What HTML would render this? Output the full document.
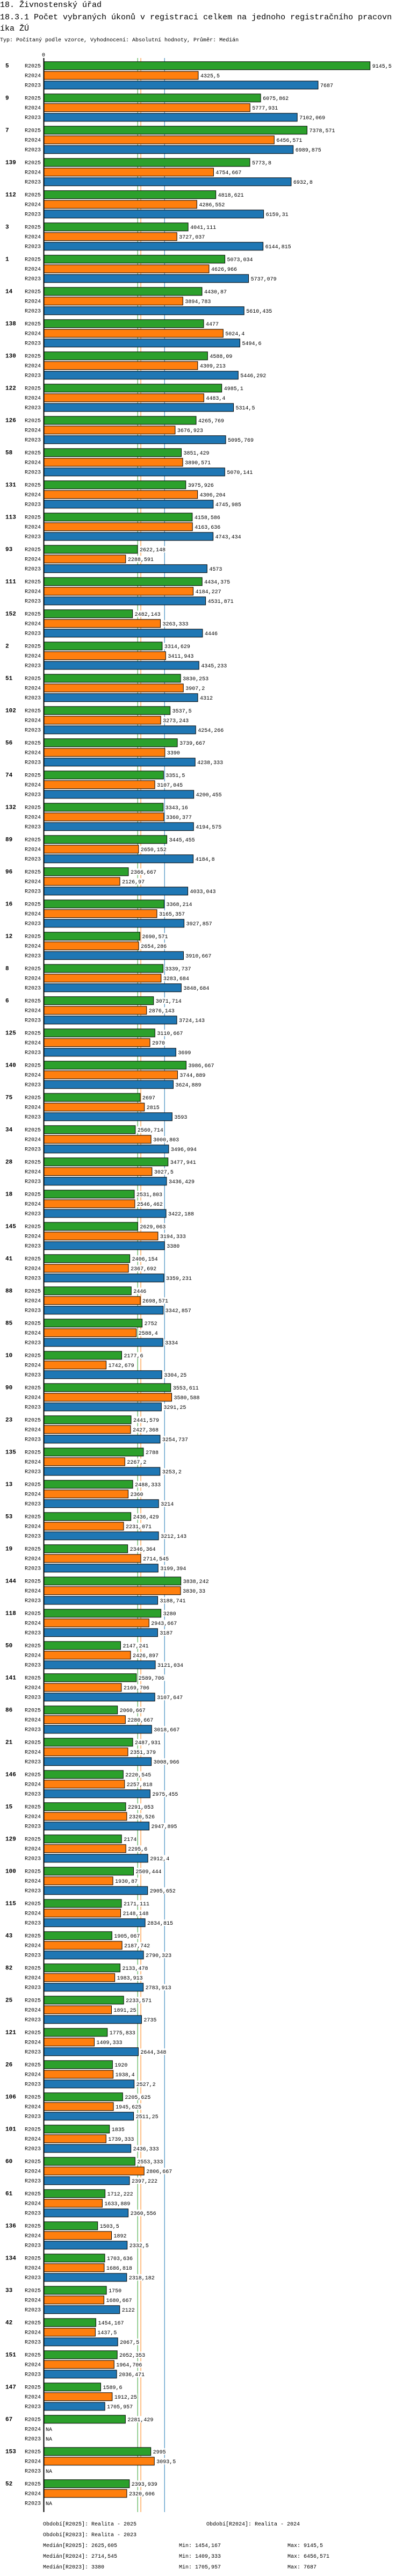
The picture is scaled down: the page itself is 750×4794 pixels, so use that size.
<!DOCTYPE html>
<html>
<head>
<meta charset="utf-8">
<style>
  html,body{margin:0;padding:0;background:#fff;}
  body{width:750px;height:4794px;overflow:hidden;}
  svg{display:block;}
  text{font-family:"Liberation Mono","DejaVu Sans Mono",monospace;fill:#000;}
</style>
</head>
<body>
<svg id="chart" width="750" height="4794" viewBox="0 0 750 4794" xmlns="http://www.w3.org/2000/svg">
  <text x="0" y="13" font-size="15">18. Živnostenský úřad</text>
  <text x="0" y="36" font-size="15">18.3.1 Počet vybraných úkonů v registraci celkem na jednoho registračního pracovn</text>
  <text x="0" y="57" font-size="15">íka ŽÚ</text>
  <text x="0" y="77" font-size="10">Typ: Počítaný podle vzorce, Vyhodnocení: Absolutní hodnoty, Průměr: Medián</text>
  <g id="plot"></g>
  <g id="footer"></g>
</svg>
<script>
const categories = ["5","9","7","139","112","3","1","14","138","130","122","126","58","131","113","93","111","152","2","51","102","56","74","132","89","96","16","12","8","6","125","140","75","34","28","18","145","41","88","85","10","90","23","135","13","53","19","144","118","50","141","86","21","146","15","129","100","115","43","82","25","121","26","106","101","60","61","136","134","33","42","151","147","67","153","52"];
const seriesNames = ["R2025","R2024","R2023"];
const values2025 = [9145.5,6075.862,7378.571,5773.8,4818.621,4041.111,5073.034,4430.87,4477,4588.09,4985.1,4265.769,3851.429,3975.926,4158.586,2622.148,4434.375,2482.143,3314.629,3830.253,3537.5,3739.667,3351.5,3343.16,3445.455,2366.667,3368.214,2690.571,3339.737,3071.714,3110.667,3986.667,2697,2560.714,3477.941,2531.803,2629.063,2406.154,2446,2752,2177.6,3553.611,2441.579,2788,2488.333,2436.429,2346.364,3838.242,3280,2147.241,2589.706,2060.667,2487.931,2220.545,2291.053,2174,2509.444,2171.111,1905.067,2133.478,2233.571,1775.833,1920,2205.625,1835,2553.333,1712.222,1503.5,1703.636,1750,1454.167,2052.353,1589.6,2281.429,2995,2393.939];
const values2024 = [4325.5,5777.931,6456.571,4754.667,4286.552,3727.037,4626.966,3894.783,5024.4,4309.213,4483.4,3676.923,3890.571,4306.204,4163.636,2288.591,4184.227,3263.333,3411.943,3907.2,3273.243,3390,3107.045,3360.377,2650.152,2126.97,3165.357,2654.286,3283.684,2876.143,2970,3744.889,2815,3000.803,3027.5,2546.462,3194.333,2367.692,2698.571,2588.4,1742.679,3580.588,2427.368,2267.2,2360,2231.071,2714.545,3830.33,2943.667,2426.897,2169.706,2280.667,2351.379,2257.818,2320.526,2295.6,1930.87,2148.148,2187.742,1983.913,1891.25,1409.333,1938.4,1945.625,1739.333,2806.667,1633.889,1892,1686.818,1680.667,1437.5,1964.706,1912.25,null,3093.5,2320.606];
const values2023 = [7687,7102.069,6989.875,6932.8,6159.31,6144.815,5737.079,5610.435,5494.6,5446.292,5314.5,5095.769,5070.141,4745.985,4743.434,4573,4531.871,4446,4345.233,4312,4254.266,4238.333,4200.455,4194.575,4184.8,4033.043,3927.857,3910.667,3848.684,3724.143,3699,3624.889,3593,3496.094,3436.429,3422.188,3380,3359.231,3342.857,3334,3304.25,3291.25,3254.737,3253.2,3214,3212.143,3199.394,3188.741,3187,3121.034,3107.647,3018.667,3008.966,2975.455,2947.895,2912.4,2905.652,2834.815,2790.323,2783.913,2735,2644.348,2527.2,2511.25,2436.333,2397.222,2360.556,2332.5,2318.182,2122,2067.5,2036.471,1705.957,null,null,null];
const medians = [2625.605, 2714.545, 3380];
const axisTickLabels = ["0"];
const footerPeriods = ["Období[R2025]: Realita - 2025","Období[R2024]: Realita - 2024","Období[R2023]: Realita - 2023"];
const footerMedians = ["Medián[R2025]: 2625,605","Medián[R2024]: 2714,545","Medián[R2023]: 3380"];
const footerMins = ["Min: 1454,167","Min: 1409,333","Min: 1705,957"];
const footerMaxs = ["Max: 9145,5","Max: 6456,571","Max: 7687"];

const NS = "http://www.w3.org/2000/svg";
const colors = ["#2ca02c","#ff7f0e","#1f77b4"];
const X0 = 82, PX_PER_UNIT = (688 - 81.3) / 9145.5;
const xScale = v => X0 + v * PX_PER_UNIT;
const TOP = 114.3, GROUP_PITCH = 60, BAR_PITCH = 18, BAR_H = 15;
const yBar = (g, s) => TOP + g * GROUP_PITCH + s * BAR_PITCH;
const AXIS_TOP = 108, AXIS_BOTTOM = 4675;
const plot = document.getElementById("plot");
const footer = document.getElementById("footer");
const series = [values2025, values2024, values2023];
const fmt = v => String(v).replace(".", ",");

function mk(tag, attrs, parent) {
  const el = document.createElementNS(NS, tag);
  for (const k in attrs) el.setAttribute(k, attrs[k]);
  parent.appendChild(el);
  return el;
}

// median lines
medians.forEach((m, i) => {
  const l = mk("line", {x1: xScale(m), x2: xScale(m), y1: AXIS_TOP, y2: AXIS_BOTTOM, stroke: colors[i], "stroke-width": 1}, plot);
  
  
});

// axis
const axis = mk("line", {x1: 81.5, x2: 81.5, y1: AXIS_TOP, y2: AXIS_BOTTOM, stroke: "#000", "stroke-width": 2}, plot);


axisTickLabels.forEach(t => {
  const tl = mk("text", {x: 81, y: 105, "font-size": 10, "text-anchor": "middle"}, plot);
  tl.textContent = t;
  
  
});

categories.forEach((cat, g) => {
  const gl = mk("text", {x: 10, y: yBar(g, 0) + 11, "font-size": 11, "font-weight": "bold"}, plot);
  gl.textContent = cat;
  
  
  series.forEach((vals, s) => {
    const y = yBar(g, s);
    const sl = mk("text", {x: 76, y: y + 11, "font-size": 10, "text-anchor": "end"}, plot);
    sl.textContent = seriesNames[s];
    
    
    const v = vals[g];
    let labelX;
    let label;
    if (v === null) {
      labelX = 85;
      label = "NA";
    } else {
      const w = xScale(v) - X0;
      const bar = mk("rect", {x: X0, y: y + 0.5, width: w, height: BAR_H, fill: colors[s], stroke: "#000", "stroke-width": 1}, plot);
      
      
      labelX = xScale(v) + 4;
      label = fmt(v);
    }
    const bg = mk("rect", {x: labelX - 1, y: y + 2, width: label.length * 6 + 2, height: 12, fill: "#fff"}, plot);
    
    
    const vl = mk("text", {x: labelX, y: y + 11.5, "font-size": 10}, plot);
    vl.textContent = label;
    
    
  });
});

// footer
const periodPos = [[80, 4700], [384, 4700], [80, 4720]];
footerPeriods.forEach((t, i) => {
  const e = mk("text", {x: periodPos[i][0], y: periodPos[i][1], "font-size": 10}, footer);
  e.textContent = t;
  
  
});
[footerMedians, footerMins, footerMaxs].forEach((arr, c) => {
  const cx = [80, 333, 535][c];
  arr.forEach((t, i) => {
    const e = mk("text", {x: cx, y: 4740 + i * 20, "font-size": 10}, footer);
    e.textContent = t;
    
    
  });
});
</script>
</body>
</html>
